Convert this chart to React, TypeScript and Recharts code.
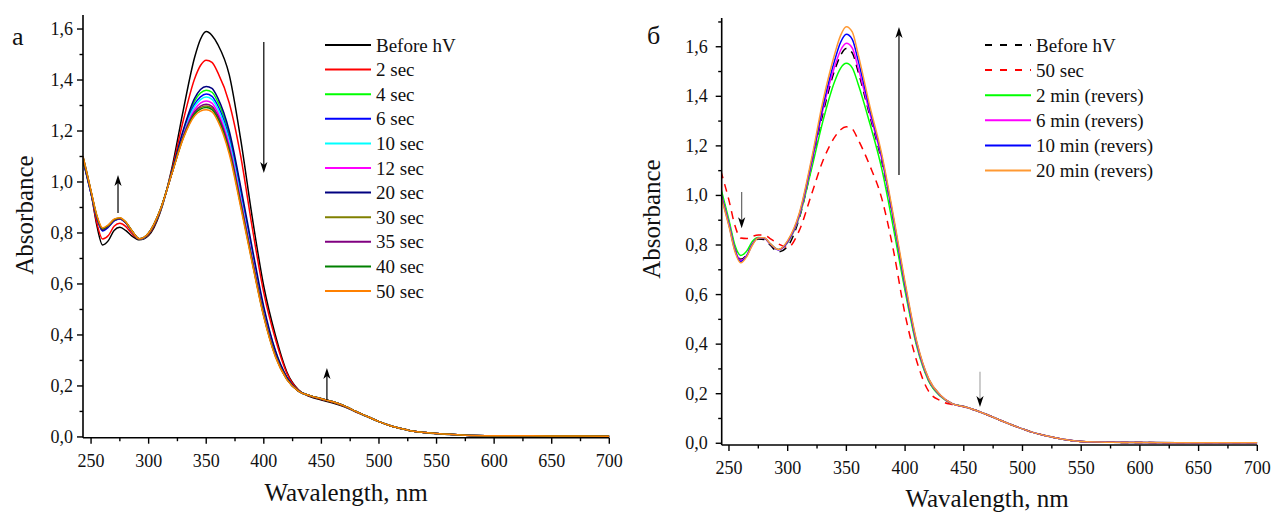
import React from 'react';
import { LineChart, Line, XAxis, YAxis, ReferenceLine } from 'recharts';

const FONT = '"Liberation Serif", "Times New Roman", Times, serif';

// Wavelength grid, nm
const WAVELENGTHS = [
  243, 250, 255, 260, 265, 270, 275, 280, 285, 292,
  300, 310, 320, 330, 340, 345, 350, 355, 360, 370, 380, 390, 400, 410, 420, 430,
  440, 450, 460, 470, 480, 490, 500, 510, 520, 530, 540, 550, 575, 600, 650, 700,
];

const X_TICKS = [250, 275, 300, 325, 350, 375, 400, 425, 450, 475, 500, 525, 550, 575, 600, 625, 650, 675, 700];
const Y_TICKS_A = [0, 0.1, 0.2, 0.3, 0.4, 0.5, 0.6, 0.7, 0.8, 0.9, 1.0, 1.1, 1.2, 1.3, 1.4, 1.5, 1.6];
const Y_TICKS_B = [0, 0.1, 0.2, 0.3, 0.4, 0.5, 0.6, 0.7, 0.8, 0.9, 1.0, 1.1, 1.2, 1.3, 1.4, 1.5, 1.6, 1.7];

// Panel а: photolysis
const A_BEFORE = [1.10, 0.96, 0.83, 0.753, 0.77, 0.81, 0.822, 0.81, 0.79, 0.773,
  0.79, 0.88, 1.05, 1.28, 1.49, 1.56, 1.59, 1.575, 1.54, 1.42, 1.165, 0.86, 0.59, 0.40, 0.255, 0.185,
  0.158, 0.145, 0.133, 0.118, 0.098, 0.079, 0.06, 0.044, 0.032, 0.022, 0.016, 0.012, 0.007, 0.005, 0.004, 0.003];
const A_2S = [1.09, 0.955, 0.84, 0.776, 0.79, 0.826, 0.838, 0.826, 0.80, 0.775,
  0.794, 0.884, 1.043, 1.24, 1.406, 1.457, 1.478, 1.469, 1.43, 1.31, 1.10, 0.82, 0.565, 0.385, 0.25, 0.184,
  0.16, 0.148, 0.136, 0.12, 0.099, 0.08, 0.06, 0.044, 0.032, 0.022, 0.017, 0.013, 0.007, 0.005, 0.004, 0.003];
const A_4S = [1.09, 0.96, 0.865, 0.815, 0.828, 0.85, 0.857, 0.842, 0.811, 0.776,
  0.797, 0.887, 1.035, 1.197, 1.318, 1.349, 1.36, 1.352, 1.315, 1.187, 0.966, 0.725, 0.50, 0.336, 0.232, 0.181,
  0.162, 0.15, 0.138, 0.122, 0.10, 0.08, 0.06, 0.044, 0.032, 0.022, 0.017, 0.013, 0.007, 0.005, 0.004, 0.003];
const A_6S = [1.085, 0.955, 0.86, 0.808, 0.823, 0.847, 0.855, 0.84, 0.81, 0.776,
  0.798, 0.888, 1.034, 1.192, 1.306, 1.334, 1.345, 1.336, 1.30, 1.172, 0.953, 0.716, 0.494, 0.332, 0.231, 0.181,
  0.162, 0.15, 0.138, 0.122, 0.10, 0.08, 0.06, 0.044, 0.032, 0.022, 0.017, 0.013, 0.007, 0.005, 0.004, 0.003];
const A_10S = [1.09, 0.958, 0.862, 0.812, 0.826, 0.849, 0.856, 0.841, 0.81, 0.776,
  0.798, 0.888, 1.033, 1.188, 1.297, 1.323, 1.333, 1.324, 1.288, 1.16, 0.942, 0.709, 0.489, 0.329, 0.23, 0.18,
  0.162, 0.15, 0.138, 0.122, 0.10, 0.08, 0.06, 0.044, 0.032, 0.022, 0.017, 0.013, 0.007, 0.005, 0.004, 0.003];
const A_12S = [1.09, 0.96, 0.863, 0.813, 0.827, 0.85, 0.857, 0.841, 0.81, 0.776,
  0.799, 0.889, 1.032, 1.182, 1.285, 1.309, 1.318, 1.309, 1.273, 1.144, 0.929, 0.70, 0.483, 0.324, 0.228, 0.18,
  0.162, 0.15, 0.138, 0.122, 0.10, 0.08, 0.06, 0.044, 0.032, 0.022, 0.017, 0.013, 0.007, 0.005, 0.004, 0.003];
const A_20S = [1.085, 0.955, 0.86, 0.81, 0.825, 0.848, 0.856, 0.84, 0.81, 0.776,
  0.797, 0.887, 1.036, 1.203, 1.329, 1.363, 1.375, 1.367, 1.33, 1.20, 0.98, 0.74, 0.51, 0.34, 0.235, 0.181,
  0.162, 0.15, 0.138, 0.122, 0.10, 0.08, 0.06, 0.044, 0.032, 0.022, 0.017, 0.013, 0.007, 0.005, 0.004, 0.003];
const A_30S = [1.095, 0.962, 0.866, 0.816, 0.83, 0.852, 0.858, 0.843, 0.812, 0.777,
  0.80, 0.89, 1.031, 1.176, 1.272, 1.292, 1.298, 1.29, 1.255, 1.126, 0.913, 0.689, 0.476, 0.319, 0.227, 0.18,
  0.162, 0.15, 0.138, 0.122, 0.10, 0.08, 0.06, 0.044, 0.032, 0.022, 0.017, 0.013, 0.007, 0.005, 0.004, 0.003];
const A_35S = [1.09, 0.96, 0.863, 0.814, 0.827, 0.85, 0.857, 0.842, 0.811, 0.777,
  0.799, 0.889, 1.031, 1.178, 1.276, 1.298, 1.305, 1.297, 1.261, 1.132, 0.919, 0.693, 0.478, 0.321, 0.227, 0.18,
  0.162, 0.15, 0.138, 0.122, 0.10, 0.08, 0.06, 0.044, 0.032, 0.022, 0.017, 0.013, 0.007, 0.005, 0.004, 0.003];
const A_40S = [1.095, 0.962, 0.866, 0.817, 0.83, 0.852, 0.859, 0.843, 0.812, 0.777,
  0.80, 0.89, 1.031, 1.173, 1.267, 1.286, 1.292, 1.284, 1.249, 1.12, 0.908, 0.685, 0.474, 0.318, 0.226, 0.18,
  0.162, 0.15, 0.138, 0.122, 0.10, 0.08, 0.06, 0.044, 0.032, 0.022, 0.017, 0.013, 0.007, 0.005, 0.004, 0.003];
const A_50S = [1.10, 0.965, 0.87, 0.82, 0.832, 0.854, 0.86, 0.844, 0.812, 0.777,
  0.80, 0.89, 1.03, 1.17, 1.26, 1.278, 1.283, 1.275, 1.24, 1.11, 0.90, 0.68, 0.47, 0.315, 0.225, 0.18,
  0.162, 0.15, 0.138, 0.122, 0.10, 0.08, 0.06, 0.044, 0.032, 0.022, 0.017, 0.013, 0.007, 0.005, 0.004, 0.003];

// Panel б: dark reversion
const B_BEFORE = [1.02, 0.89, 0.79, 0.743, 0.76, 0.805, 0.824, 0.822, 0.80, 0.772,
  0.795, 0.91, 1.11, 1.33, 1.505, 1.565, 1.593, 1.575, 1.50, 1.32, 1.14, 0.90, 0.63, 0.398, 0.256, 0.192,
  0.16, 0.148, 0.133, 0.115, 0.095, 0.076, 0.058, 0.042, 0.03, 0.02, 0.012, 0.007, 0.004, 0.003, 0.002, 0.002];
const B_50S = [1.10, 0.98, 0.88, 0.828, 0.826, 0.835, 0.84, 0.84, 0.826, 0.805,
  0.79, 0.86, 1.00, 1.14, 1.235, 1.265, 1.277, 1.268, 1.225, 1.12, 0.99, 0.78, 0.52, 0.33, 0.21, 0.172,
  0.156, 0.147, 0.133, 0.115, 0.095, 0.076, 0.058, 0.042, 0.03, 0.02, 0.012, 0.007, 0.004, 0.003, 0.002, 0.002];
const B_2M = [1.03, 0.90, 0.80, 0.758, 0.775, 0.815, 0.83, 0.828, 0.806, 0.782,
  0.81, 0.915, 1.10, 1.30, 1.46, 1.513, 1.533, 1.515, 1.45, 1.29, 1.11, 0.87, 0.615, 0.39, 0.252, 0.19,
  0.16, 0.148, 0.133, 0.115, 0.095, 0.076, 0.058, 0.042, 0.03, 0.02, 0.012, 0.007, 0.004, 0.003, 0.002, 0.002];
const B_6M = [1.01, 0.885, 0.785, 0.738, 0.758, 0.805, 0.828, 0.827, 0.805, 0.781,
  0.812, 0.92, 1.12, 1.345, 1.52, 1.585, 1.614, 1.595, 1.515, 1.33, 1.15, 0.905, 0.635, 0.40, 0.258, 0.193,
  0.16, 0.148, 0.133, 0.115, 0.095, 0.076, 0.058, 0.042, 0.03, 0.02, 0.012, 0.007, 0.004, 0.003, 0.002, 0.002];
const B_10M = [1.005, 0.88, 0.78, 0.733, 0.755, 0.803, 0.828, 0.828, 0.805, 0.781,
  0.815, 0.925, 1.13, 1.36, 1.545, 1.617, 1.65, 1.63, 1.545, 1.345, 1.16, 0.91, 0.64, 0.405, 0.26, 0.194,
  0.16, 0.148, 0.133, 0.115, 0.095, 0.076, 0.058, 0.042, 0.03, 0.02, 0.012, 0.007, 0.004, 0.003, 0.002, 0.002];
const B_20M = [1.00, 0.875, 0.775, 0.728, 0.752, 0.80, 0.828, 0.829, 0.806, 0.782,
  0.818, 0.93, 1.14, 1.38, 1.57, 1.645, 1.681, 1.66, 1.57, 1.36, 1.17, 0.92, 0.65, 0.41, 0.262, 0.195,
  0.16, 0.148, 0.133, 0.115, 0.095, 0.076, 0.058, 0.042, 0.03, 0.02, 0.012, 0.007, 0.004, 0.003, 0.002, 0.002];

type Series = { key: string; name: string; color: string; dash?: string; values: number[] };

const SERIES_A: Series[] = [
  { key: 'a0', name: 'Before hV', color: '#000000', values: A_BEFORE },
  { key: 'a1', name: '2 sec', color: '#ff0000', values: A_2S },
  { key: 'a2', name: '4 sec', color: '#00ff00', values: A_4S },
  { key: 'a3', name: '6 sec', color: '#0000ff', values: A_6S },
  { key: 'a4', name: '10 sec', color: '#00ffff', values: A_10S },
  { key: 'a5', name: '12 sec', color: '#ff00ff', values: A_12S },
  { key: 'a6', name: '20 sec', color: '#000080', values: A_20S },
  { key: 'a7', name: '30 sec', color: '#808000', values: A_30S },
  { key: 'a8', name: '35 sec', color: '#800080', values: A_35S },
  { key: 'a9', name: '40 sec', color: '#008000', values: A_40S },
  { key: 'a10', name: '50 sec', color: '#ff8000', values: A_50S },
];

const SERIES_B: Series[] = [
  { key: 'b0', name: 'Before hV', color: '#000000', dash: '8 6', values: B_BEFORE },
  { key: 'b1', name: '50 sec', color: '#ff0000', dash: '8 6', values: B_50S },
  { key: 'b2', name: '2 min (revers)', color: '#00ff00', values: B_2M },
  { key: 'b3', name: '6 min (revers)', color: '#ff00ff', values: B_6M },
  { key: 'b4', name: '10 min (revers)', color: '#0000ff', values: B_10M },
  { key: 'b5', name: '20 min (revers)', color: '#ff9933', values: B_20M },
];

// Annotation arrows in data units: wavelength, start and end absorbance
const ARROWS_A = [
  { x: 400, from: 1.549, to: 1.035, shaft: '#000' },
  { x: 273.4, from: 0.878, to: 1.027, shaft: '#000' },
  { x: 454.8, from: 0.145, to: 0.27, shaft: '#000' },
];
const ARROWS_B = [
  { x: 394.8, from: 1.082, to: 1.68, shaft: '#000' },
  { x: 260.8, from: 1.014, to: 0.868, shaft: '#666' },
  { x: 463.8, from: 0.289, to: 0.146, shaft: '#aaa' },
];

const TICK_SIZE = 6;
const TICK_MARGIN = 4;

const buildRows = (series: Series[]) =>
  WAVELENGTHS.map((nm, i) => {
    const row: Record<string, number> = { nm };
    series.forEach((s) => {
      row[s.key] = s.values[i];
    });
    return row;
  });

const XTick = (props: any) => {
  const { x, y, payload } = props;
  const v = payload.value;
  const major = v % 50 === 0;
  const axisY = y - TICK_SIZE - TICK_MARGIN;
  return (
    <g>
      <line x1={x} x2={x} y1={axisY} y2={axisY + (major ? 6 : 3.5)} stroke="#000" strokeWidth={1.4} />
      {major && (
        <text x={x} y={axisY + 29} textAnchor="middle" fontSize={18} fontFamily={FONT} fill="#111">
          {v}
        </text>
      )}
    </g>
  );
};

const YTick = (props: any) => {
  const { x, y, payload, gap } = props;
  const v = payload.value;
  const major = Math.round(v * 10) % 2 === 0;
  const axisX = x + TICK_SIZE + TICK_MARGIN;
  return (
    <g>
      <line x1={axisX - (major ? 6 : 3.5)} x2={axisX} y1={y} y2={y} stroke="#000" strokeWidth={1.4} />
      {major && (
        <text x={axisX - gap} y={y + 6} textAnchor="end" fontSize={18} fontFamily={FONT} fill="#111">
          {v.toFixed(1).replace('.', ',')}
        </text>
      )}
    </g>
  );
};

const Arrow = (props: any) => {
  const { x1, y1, x2, y2, shaft } = props;
  const dir = y2 > y1 ? 1 : -1;
  const headLen = 11;
  const headW = 3.6;
  return (
    <g>
      <line x1={x1} y1={y1} x2={x2} y2={y2 - dir * 6} stroke={shaft} strokeWidth={1.2} />
      <polygon
        points={`${x2},${y2} ${x2 - headW},${y2 - dir * headLen} ${x2},${y2 - dir * (headLen - 3)} ${x2 + headW},${y2 - dir * headLen}`}
        fill="#000"
      />
    </g>
  );
};

type PanelProps = {
  left: number;
  width: number;
  margin: { top: number; right: number; bottom: number; left: number };
  xDomain: [number, number];
  yDomain: [number, number];
  yTicks: number[];
  labelGap: number;
  series: Series[];
  arrows: { x: number; from: number; to: number; shaft: string }[];
};

const Panel = ({ left, width, margin, xDomain, yDomain, yTicks, labelGap, series, arrows }: PanelProps) => {
  const rows = buildRows(series);
  return (
    <div style={{ position: 'absolute', left, top: 0 }}>
      <LineChart width={width} height={517} data={rows} margin={margin}>
        <XAxis
          type="number"
          dataKey="nm"
          domain={xDomain}
          allowDataOverflow
          ticks={X_TICKS}
          interval={0}
          tickSize={TICK_SIZE}
          tickMargin={TICK_MARGIN}
          tickLine={false}
          axisLine={{ stroke: '#000', strokeWidth: 1.6 }}
          tick={<XTick />}
          height={40}
        />
        <YAxis
          type="number"
          domain={yDomain}
          allowDataOverflow
          ticks={yTicks}
          interval={0}
          tickSize={TICK_SIZE}
          tickMargin={TICK_MARGIN}
          tickLine={false}
          axisLine={{ stroke: '#000', strokeWidth: 1.6 }}
          tick={(p: any) => <YTick {...p} gap={labelGap} />}
          width={60}
        />
        {series.map((s) => (
          <Line
            key={s.key}
            type="monotone"
            dataKey={s.key}
            name={s.name}
            stroke={s.color}
            strokeWidth={1.5}
            strokeDasharray={s.dash}
            dot={false}
            activeDot={false}
            isAnimationActive={false}
          />
        ))}
        {arrows.map((a, i) => (
          <ReferenceLine
            key={i}
            segment={[{ x: a.x, y: a.from }, { x: a.x, y: a.to }]}
            ifOverflow="visible"
            shape={(p: any) => <Arrow {...p} shaft={a.shaft} />}
          />
        ))}
      </LineChart>
    </div>
  );
};

const LegendBlock = ({ series, x, y, step }: { series: Series[]; x: number; y: number; step: number }) => (
  <g>
    {series.map((s, i) => (
      <g key={s.key}>
        <line
          x1={x}
          x2={x + 46}
          y1={y + i * step}
          y2={y + i * step}
          stroke={s.color}
          strokeWidth={2}
          strokeDasharray={s.dash ? '7 8' : undefined}
        />
        <text x={x + 51} y={y + i * step + 6.5} fontSize={19} fontFamily={FONT} fill="#111">
          {s.name}
        </text>
      </g>
    ))}
  </g>
);

export default function App() {
  return (
    <div style={{ position: 'absolute', left: 0, top: 0, width: 1273, height: 517, background: '#fff', overflow: 'hidden' }}>
      <Panel
        left={0}
        width={640}
        margin={{ top: 15, right: 30.7, bottom: 39.3, left: 23 }}
        xDomain={[243, 700]}
        yDomain={[-0.003, 1.655]}
        yTicks={Y_TICKS_A}
        labelGap={10}
        series={SERIES_A}
        arrows={ARROWS_A}
      />
      <Panel
        left={640}
        width={633}
        margin={{ top: 18, right: 15.7, bottom: 32, left: 21.7 }}
        xDomain={[243.8, 700]}
        yDomain={[-0.007, 1.716]}
        yTicks={Y_TICKS_B}
        labelGap={14}
        series={SERIES_B}
        arrows={ARROWS_B}
      />
      <svg
        width={1273}
        height={517}
        style={{ position: 'absolute', left: 0, top: 0, pointerEvents: 'none' }}
        fontFamily={FONT}
      >
        <text x={12} y={45} fontSize={26} fill="#111">а</text>
        <text x={647} y={44} fontSize={26} fill="#111">б</text>
        <text transform="translate(33,215) rotate(-90)" textAnchor="middle" fontSize={25} fill="#111">Absorbance</text>
        <text transform="translate(660,219) rotate(-90)" textAnchor="middle" fontSize={25} fill="#111">Absorbance</text>
        <text x={346} y={501} textAnchor="middle" fontSize={25} fill="#111">Wavalength, nm</text>
        <text x={987} y={507} textAnchor="middle" fontSize={25} fill="#111">Wavalength, nm</text>
        <LegendBlock series={SERIES_A} x={325} y={45} step={24.6} />
        <LegendBlock series={SERIES_B} x={985} y={45} step={25.1} />
      </svg>
    </div>
  );
}
